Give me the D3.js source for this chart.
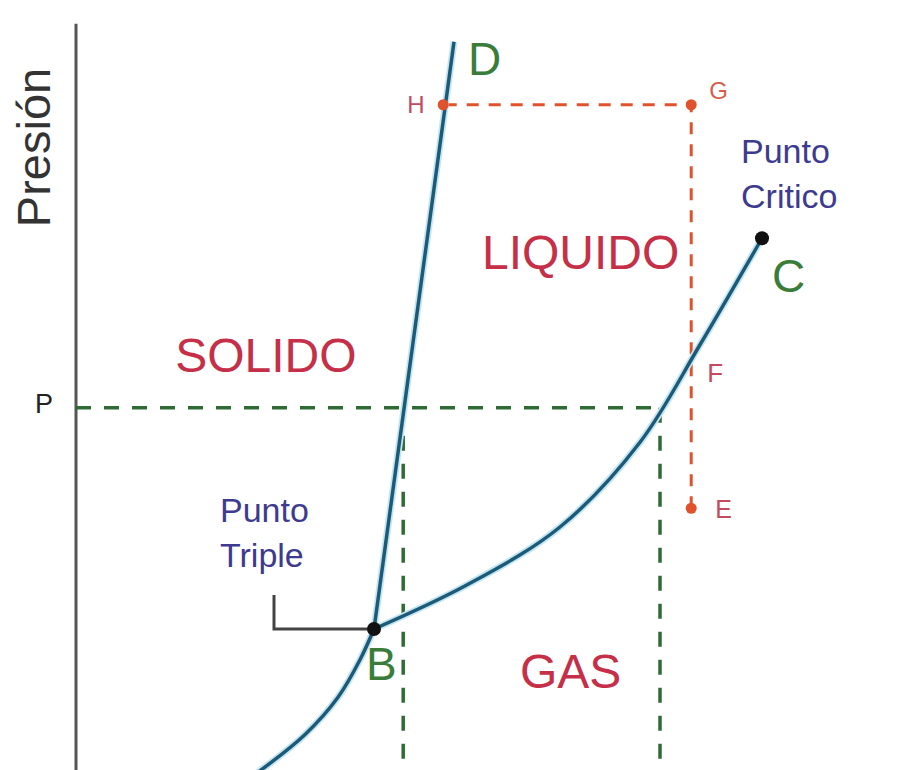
<!DOCTYPE html>
<html>
<head>
<meta charset="utf-8">
<script src="https://cdn.jsdelivr.net/npm/d3@7"></script>
<style>
  body { margin: 0; background: #fff; }
  svg { display: block; font-family: "Liberation Sans", Arial, sans-serif; }
</style>
</head>
<body>
<div id="app"></div>
<script>
// curvas del diagrama de fases (temperatura, presión) en unidades arbitrarias
const sublimacion = [
  {t: 22.75, p: -0.3}, {t: 28.6, p: 4.7}, {t: 32.75, p: 9.7},
  {t: 35.5, p: 14.7}, {t: 37.25, p: 18.8}
]
const vaporizacion = [
  {t: 37.25, p: 18.8}, {t: 48.9, p: 24.7}, {t: 60.5, p: 32.4},
  {t: 70.5, p: 43.7}, {t: 78.0, p: 56.7}, {t: 85.75, p: 70.9}
]
const fusion = [{t: 37.25, p: 18.8}, {t: 47.25, p: 97.1}]

// presión P y sus cortes
const presionP = 48.3
const cortesP = [40.9, 73.0]

// recorrido E -> F -> G -> H
const recorrido = [
  {id: 'E', t: 76.9, p: 34.9},
  {id: 'G', t: 76.9, p: 88.7},
  {id: 'H', t: 45.9, p: 88.7}
]
const puntoF = {t: 76.9, p: 53.6}

const puntoTriple = {t: 37.25, p: 18.8}
const puntoCritico = {t: 85.75, p: 70.9}

const regiones = [
  {nombre: 'SOLIDO', t: 12.4, p: 53.1},
  {nombre: 'LIQUIDO', t: 50.75, p: 66.8},
  {nombre: 'GAS', t: 55.5, p: 10.9}
]

const width = 917, height = 770

const svg = d3.select('#app')
  .append('svg')
    .attr('width', width)
    .attr('height', height)

const xScale = d3.scaleLinear().domain([0, 100]).range([76, 876])
const yScale = d3.scaleLinear().domain([0, 100]).range([770, 20])

const line = d3.line()
  .x(d => xScale(d.t))
  .y(d => yScale(d.p))

// eje de presión
svg.append('line')
  .attr('x1', xScale(0)).attr('x2', xScale(0))
  .attr('y1', yScale(99.5)).attr('y2', height)
  .attr('stroke', '#555').attr('stroke-width', 3)

svg.append('text')
  .attr('transform', `translate(50, ${yScale(83)}) rotate(-90)`)
  .attr('text-anchor', 'middle')
  .attr('font-size', 47)
  .attr('fill', '#333')
  .text('Presión')

// líneas de P (verde)
const verde = '#2f6b35'
svg.append('line')
  .attr('x1', xScale(0)).attr('x2', xScale(cortesP[1]))
  .attr('y1', yScale(presionP)).attr('y2', yScale(presionP))
  .attr('stroke', verde).attr('stroke-width', 3.5)
  .attr('stroke-dasharray', '15 13')
svg.selectAll('.vP')
  .data(cortesP)
  .join('line')
    .attr('x1', d => xScale(d)).attr('x2', d => xScale(d))
    .attr('y1', yScale(presionP)).attr('y2', height)
    .attr('stroke', verde).attr('stroke-width', 3.5)
    .attr('stroke-dasharray', '15 13')

svg.append('text')
  .attr('x', 35).attr('y', yScale(presionP) + 5)
  .attr('font-size', 27).attr('fill', '#222')
  .text('P')

// recorrido naranja
const naranja = '#e0522c'
svg.append('path')
  .attr('d', line(recorrido))
  .attr('fill', 'none')
  .attr('stroke', naranja).attr('stroke-width', 3)
  .attr('stroke-dasharray', '12 10')

// curvas
const curva = d3.line()
  .x(d => xScale(d.t))
  .y(d => yScale(d.p))
  .curve(d3.curveCatmullRom.alpha(0.5))

;[sublimacion, vaporizacion, fusion].forEach(datos => {
  svg.append('path')
    .attr('d', curva(datos))
    .attr('fill', 'none')
    .attr('stroke', '#c4e6f2').attr('stroke-width', 7)
  svg.append('path')
    .attr('d', curva(datos))
    .attr('fill', 'none')
    .attr('stroke', '#1d5a78').attr('stroke-width', 3.5)
})

// puntos del recorrido
svg.selectAll('.dot')
  .data(recorrido)
  .join('circle')
    .attr('cx', d => xScale(d.t))
    .attr('cy', d => yScale(d.p))
    .attr('r', 5.5)
    .attr('fill', naranja)

const letrasRojas = [
  {id: 'H', dx: -36, dy: 8, size: 24, color: '#c44a62'},
  {id: 'G', dx: 18, dy: -6, size: 24, color: '#d4604c'},
  {id: 'E', dx: 24, dy: 10, size: 25, color: '#c44a62'}
]
letrasRojas.forEach(l => {
  const d = recorrido.find(r => r.id === l.id)
  svg.append('text')
    .attr('x', xScale(d.t) + l.dx).attr('y', yScale(d.p) + l.dy)
    .attr('font-size', l.size).attr('fill', l.color)
    .text(l.id)
})
svg.append('text')
  .attr('x', xScale(puntoF.t) + 16).attr('y', yScale(puntoF.p) + 14)
  .attr('font-size', 26).attr('fill', '#c44a62')
  .text('F')

// punto triple
svg.append('path')
  .attr('d', `M${xScale(puntoTriple.t) - 100},${yScale(puntoTriple.p) - 34}` +
             `V${yScale(puntoTriple.p)}H${xScale(puntoTriple.t)}`)
  .attr('fill', 'none')
  .attr('stroke', '#444').attr('stroke-width', 3)

svg.selectAll('.negro')
  .data([puntoTriple, puntoCritico])
  .join('circle')
    .attr('cx', d => xScale(d.t))
    .attr('cy', d => yScale(d.p))
    .attr('r', 7)
    .attr('fill', '#111')

const azul = '#3d3a8f'
const etiquetas = [
  {lineas: ['Punto', 'Triple'], x: 220, y: 522},
  {lineas: ['Punto', 'Critico'], x: 741, y: 163}
]
etiquetas.forEach(e => {
  const t = svg.append('text')
    .attr('x', e.x).attr('y', e.y)
    .attr('font-size', 34).attr('fill', azul)
  e.lineas.forEach((s, i) => {
    t.append('tspan').attr('x', e.x).attr('dy', i ? 45 : 0).text(s)
  })
})

// letras verdes B, C, D
const letrasVerdes = [
  {id: 'B', t: 36.25, p: 12.0},
  {id: 'C', t: 87.0, p: 63.7},
  {id: 'D', t: 49.0, p: 92.7}
]
svg.selectAll('.verde')
  .data(letrasVerdes)
  .join('text')
    .attr('x', d => xScale(d.t))
    .attr('y', d => yScale(d.p))
    .attr('font-size', 46)
    .attr('fill', '#3a7d3a')
    .text(d => d.id)

// regiones
svg.selectAll('.region')
  .data(regiones)
  .join('text')
    .attr('x', d => xScale(d.t))
    .attr('y', d => yScale(d.p))
    .attr('font-size', 48)
    .attr('fill', '#c53048')
    .text(d => d.nombre)
</script>
</body>
</html>
